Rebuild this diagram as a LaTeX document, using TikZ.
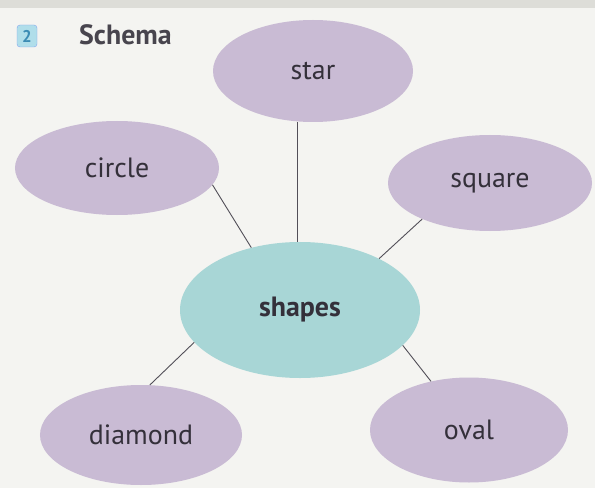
\documentclass[tikz,border=0pt]{standalone}
\usepackage{fontspec}
\setmainfont{PT Sans}
\usepackage{xcolor}
\usepackage{tikz}
\usetikzlibrary{shapes.geometric}

\definecolor{lilac}{RGB}{201,187,212}
\definecolor{aqua}{RGB}{168,214,214}
\definecolor{paper}{RGB}{244,244,241}
\definecolor{strip}{RGB}{221,221,216}
\definecolor{ink}{RGB}{52,48,58}
\definecolor{badge}{RGB}{176,222,234}
\definecolor{badgeink}{RGB}{60,140,180}

\begin{document}
\begin{tikzpicture}[
    x=1bp, y=-1bp,
    idea/.style={ellipse, fill=lilac, inner sep=0pt, minimum width=202bp, minimum height=100bp, font=\fontsize{28}{32}\selectfont, text=ink},
    hub/.style={ellipse, fill=aqua, inner sep=0pt, minimum width=240bp, minimum height=136bp, font=\fontsize{28}{32}\selectfont\bfseries, text=ink},
    link/.style={draw=ink!85, line width=0.9bp}
]

% Page
\useasboundingbox (0,0) rectangle (595,488);
\fill[paper] (0,0) rectangle (595,488);
\fill[strip] (0,0) rectangle (595,8);

% Heading
\node[rectangle, rounded corners=3pt, draw=badge!75!blue, fill=badge, minimum width=20bp, minimum height=22bp, inner sep=0pt, font=\fontsize{17}{19}\selectfont\bfseries, text=badgeink] (num) at (27,36) {2};
\node[anchor=west, inner sep=0pt, font=\fontsize{28}{32}\selectfont\bfseries, text=ink!90] (title) at (79,35) {Schema};

% Ellipses
\node[idea, minimum width=200bp, minimum height=102bp] (star) at (313,71) {star};
\node[idea, minimum width=204bp, minimum height=94bp] (circ) at (117,168) {circle};
\node[idea, minimum width=204bp, minimum height=96bp] (square) at (490,183) {square};
\node[hub] (hub) at (300,310) {shapes};
\node[idea, minimum width=202bp, minimum height=100bp] (diamond) at (141,435) {diamond};
\node[idea, minimum width=198bp, minimum height=105bp] (oval) at (469,430) {oval};

% Connectors
\draw[link] (hub.92) -- (hub.92 |- star.south);
\draw[link] (circ.-10) -- (hub.128);
\draw[link] (square.-152) -- (hub.33);
\draw[link] (hub.-163) -- (diamond.80);
\draw[link] (hub.-19) -- (oval.128);

\end{tikzpicture}
\end{document}
